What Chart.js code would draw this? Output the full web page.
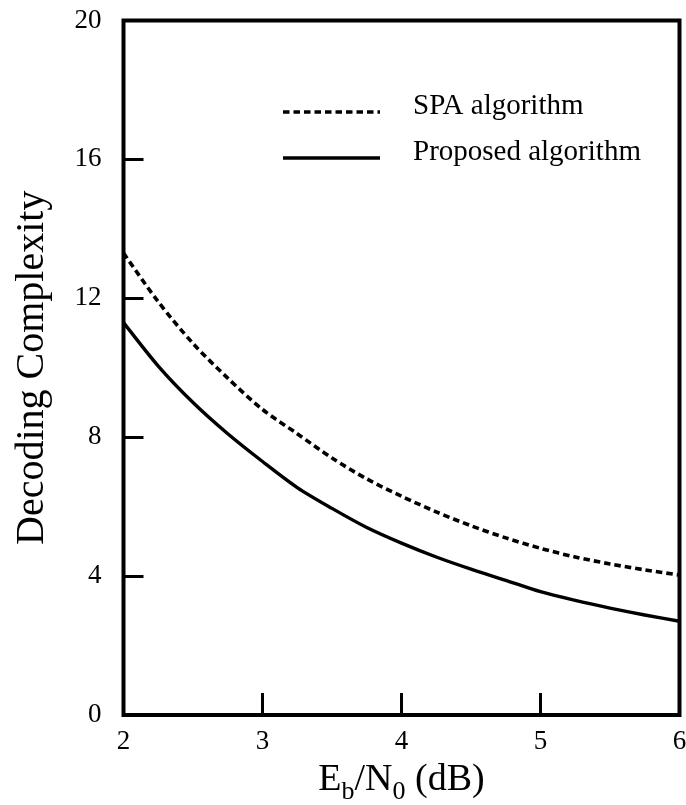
<!DOCTYPE html>
<html>
<head>
<meta charset="utf-8">
<script src="https://cdn.jsdelivr.net/npm/chart.js@4.4.0/dist/chart.umd.min.js"></script>
<style>
  html, body { margin: 0; padding: 0; background: #fff; }
  #wrap { width: 686px; height: 805px; }
</style>
</head>
<body>
<div id="wrap"><canvas id="complexity" width="686" height="805"></canvas></div>
<script>
// values
const ebn0 = [2, 2.25, 2.5, 2.75, 3, 3.25, 3.5, 3.75, 4, 4.25, 4.5, 4.75, 5, 5.25, 5.5, 5.75, 6];
const spaComplexity = [13.3, 11.9, 10.7, 9.7, 8.8, 8.1, 7.4, 6.8, 6.3, 5.85, 5.45, 5.1, 4.8, 4.55, 4.35, 4.18, 4.03];
const proposedComplexity = [11.3, 10.05, 9.0, 8.1, 7.3, 6.55, 5.95, 5.4, 4.95, 4.55, 4.2, 3.88, 3.55, 3.3, 3.08, 2.88, 2.7];
const seriesLabels = ['SPA algorithm', 'Proposed algorithm'];
const xTicks = [2, 3, 4, 5, 6];
const yTicks = [0, 4, 8, 12, 16, 20];

const serif = "'Liberation Serif', 'Times New Roman', serif";

function toPoints(ys) {
    return ebn0.map((x, i) => ({ x: x, y: ys[i] }));
}

// fixed axis size, no extra room for labels sticking out
function fixSize(scale, w, h) {
    if (w) scale.width = w;
    if (h) scale.height = h;
    scale.paddingTop = 0;
    scale.paddingBottom = 0;
    scale.paddingLeft = 0;
    scale.paddingRight = 0;
}

// black frame round the plot area
const framePlugin = {
    id: 'frame',
    afterDraw(chart) {
        const a = chart.chartArea;
        const ctx = chart.ctx;
        ctx.save();
        ctx.strokeStyle = '#000';
        ctx.lineWidth = 4;
        ctx.lineJoin = 'miter';
        ctx.strokeRect(a.left, a.top, a.right - a.left, a.bottom - a.top);
        ctx.restore();
    }
};

// legend inside the plot, one line sample per dataset
const lineLegend = {
    id: 'lineLegend',
    afterDraw(chart) {
        const ctx = chart.ctx;
        const rows = [112, 158];
        ctx.save();
        chart.data.datasets.forEach((ds, i) => {
            const y = rows[i];
            ctx.beginPath();
            ctx.setLineDash(ds.borderDash || []);
            ctx.lineWidth = ds.borderWidth;
            ctx.strokeStyle = ds.borderColor;
            ctx.moveTo(283, y);
            ctx.lineTo(380, y);
            ctx.stroke();
            ctx.setLineDash([]);
            ctx.fillStyle = '#000';
            ctx.font = '29px ' + serif;
            ctx.textBaseline = 'alphabetic';
            ctx.fillText(ds.label, 413, y + 1.5);
        });
        ctx.restore();
    }
};

// x axis title with subscripts: Eb/N0 (dB)
const xTitle = {
    id: 'xTitle',
    afterDraw(chart) {
        const ctx = chart.ctx;
        const parts = [
            { t: 'E', sub: false }, { t: 'b', sub: true },
            { t: '/N', sub: false }, { t: '0', sub: true },
            { t: ' (dB)', sub: false }
        ];
        const big = '38px ' + serif, small = '26px ' + serif;
        ctx.save();
        let w = 0;
        parts.forEach(p => { ctx.font = p.sub ? small : big; w += ctx.measureText(p.t).width; });
        const a = chart.chartArea;
        let x = (a.left + a.right) / 2 - w / 2;
        const base = 790;
        ctx.fillStyle = '#000';
        ctx.textBaseline = 'alphabetic';
        parts.forEach(p => {
            ctx.font = p.sub ? small : big;
            ctx.fillText(p.t, x, p.sub ? base + 9 : base);
            x += ctx.measureText(p.t).width;
        });
        ctx.restore();
    }
};

new Chart(document.getElementById('complexity'), {
    type: 'line',
    data: {
        datasets: [
            {
                label: seriesLabels[0],
                data: toPoints(spaComplexity),
                borderColor: '#000',
                borderWidth: 3.6,
                borderDash: [6.5, 4],
                pointRadius: 0,
                tension: 0.3,
                fill: false
            },
            {
                label: seriesLabels[1],
                data: toPoints(proposedComplexity),
                borderColor: '#000',
                borderWidth: 3.4,
                pointRadius: 0,
                tension: 0.3,
                fill: false
            }
        ]
    },
    options: {
        responsive: false,
        animation: false,
        devicePixelRatio: 1,
        layout: { padding: { left: 0, right: 6.5, top: 20.5, bottom: 0 } },
        plugins: {
            legend: { display: false },
            tooltip: { enabled: false }
        },
        scales: {
            x: {
                type: 'linear',
                min: 2,
                max: 6,
                afterBuildTicks: (scale) => { scale.ticks = xTicks.map(v => ({ value: v })); },
                afterFit: (scale) => fixSize(scale, 0, 90),
                border: { display: false },
                grid: { drawOnChartArea: false, drawTicks: true, tickLength: -22, color: '#000', lineWidth: 3 },
                ticks: { color: '#000', font: { family: serif, size: 27 }, padding: 33, maxRotation: 0 }
            },
            y: {
                type: 'linear',
                min: 0,
                max: 20,
                afterBuildTicks: (scale) => { scale.ticks = yTicks.map(v => ({ value: v })); },
                afterFit: (scale) => fixSize(scale, 123.5, 0),
                border: { display: false },
                grid: { drawOnChartArea: false, drawTicks: true, tickLength: -20, color: '#000', lineWidth: 3 },
                ticks: { color: '#000', font: { family: serif, size: 27 }, padding: 42 },
                title: {
                    display: true,
                    text: 'Decoding Complexity',
                    color: '#000',
                    font: { family: serif, size: 40 },
                    padding: { top: 8, bottom: 0 }
                }
            }
        }
    },
    plugins: [framePlugin, lineLegend, xTitle]
});
</script>
</body>
</html>
